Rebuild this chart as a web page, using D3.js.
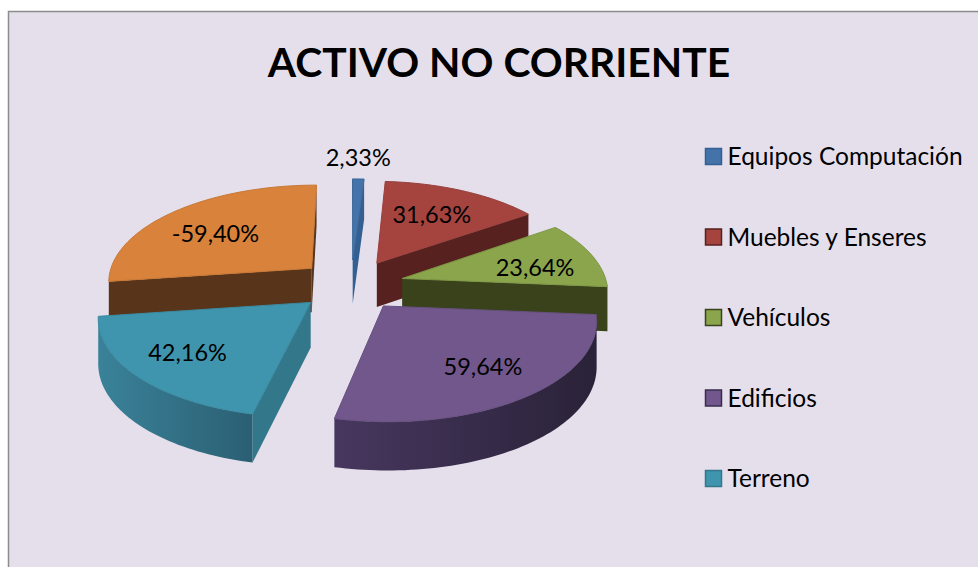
<!DOCTYPE html>
<html><head><meta charset="utf-8">
<script src="https://cdn.jsdelivr.net/npm/d3@7"></script>
<style>html,body{margin:0;padding:0;background:#fff}svg{display:block}</style>
</head><body><svg id="c" width="978" height="567"></svg>
<script>
const titleText = "ACTIVO NO CORRIENTE";
const categories = ["Equipos Computación","Muebles y Enseres","Vehículos","Edificios","Terreno","Activo"];
const legendCategories = ["Equipos Computación","Muebles y Enseres","Vehículos","Edificios","Terreno"];
const magnitudes = [2.33,31.63,23.64,59.64,42.16,59.40];
const labels = ["2,33%","31,63%","23,64%","59,64%","42,16%","-59,40%"];
const topColors = ["#4473a9","#a5443f","#8aa54c","#71578c","#3f95ae","#d9823b"];
const cutColors = ["#335f92","#57211f","#3a421c","#3a2d4c","#33788a","#57341a"];
const rimLeft   = ["#335f92","#5e2422","#3a421c","#47375f","#3a8299","#5a361b"];
const rimRight  = ["#2c5078","#4a1c1a","#333a18","#2a2238","#2b5f73","#57341a"];
const strokeColors = ["#3c689b","#98403c","#7e9746","#67507f","#3a8aa2","#c77835"];
const labelNudge = [[3,-51],[2,-3],[19,4],[19,8],[-22,7],[-11,1]];
const paintOrder = [0,5,1,2,4,3];

const W=978,H=567,cx=351,cy=285,explode=0.26,labelR=0.6;
const svg=d3.select("#c");
const defs=svg.append("defs");
svg.append("rect").attr("width",W).attr("height",H).attr("fill","#fff");
svg.append("rect").attr("x",8.5).attr("y",11.5).attr("width",W+10).attr("height",H+10)
  .attr("fill","#e5dfec").attr("stroke","#8c8c8c").attr("stroke-width",1.5);

svg.append("text").attr("x",499).attr("y",77).attr("text-anchor","middle")
  .attr("font-family","Lato, 'Open Sans', sans-serif").attr("font-weight",700).attr("font-size",40.8)
  .attr("fill","#000").text(titleText);

// Perspective model of the tilted disc
const scaleAt=d3.scaleLinear().domain([-1,0,1]).range([180,205,233]);   // px per unit at depth Z
const thickAt=d3.scaleLinear().domain([-1,1]).range([41,48]);           // extrusion height at depth Z
const depthY=d3.scaleLinear().domain([-1,0,1]).range([-99.5,0,97]);     // vertical foreshortening
function project(X,Z){
  const s=scaleAt(Z);
  return {x:cx+X*s,y:cy+depthY(Z)*s/205,t:thickAt(Z)};
}
const pie=d3.pie().sort(null).value(d=>d);
const arcs=pie(magnitudes);
const line=d3.line().x(d=>d.x).y(d=>d.y);

function slicePoints(a){
  const mid=(a.startAngle+a.endAngle)/2;
  const ox=explode*Math.sin(mid),oz=-explode*Math.cos(mid);
  const n=Math.max(4,Math.round((a.endAngle-a.startAngle)*40));
  const rim=d3.range(n+1).map(i=>{
    const th=a.startAngle+(a.endAngle-a.startAngle)*i/n;
    return project(ox+Math.sin(th),oz-Math.cos(th));
  });
  return {apex:project(ox,oz),rim};
}
function band(pts){
  const lower=pts.map(p=>({x:p.x,y:p.y+p.t})).reverse();
  return line(pts.concat(lower))+"Z";
}

const gSl=svg.append("g");
paintOrder.forEach(i=>{
  const {apex,rim}=slicePoints(arcs[i]);
  const g=gSl.append("g");
  const first=rim[0],last=rim[rim.length-1];
  // cut faces: clockwise outline edge is visible when moving left on screen
  if(first.x<apex.x) g.append("path").attr("d",band([apex,first])).attr("fill",cutColors[i]);
  if(apex.x<last.x) g.append("path").attr("d",band([last,apex])).attr("fill",cutColors[i]);
  // rim: keep the part that faces the viewer
  const vis=rim.filter((p,k)=>{
    const a=rim[Math.max(0,k-1)],b=rim[Math.min(rim.length-1,k+1)];
    return b.x<a.x;
  });
  if(vis.length>1){
    const id="rim"+i;
    const xs=d3.extent(vis,p=>p.x);
    const gr=defs.append("linearGradient").attr("id",id).attr("gradientUnits","userSpaceOnUse")
      .attr("x1",xs[0]).attr("x2",xs[1]).attr("y1",0).attr("y2",0);
    gr.append("stop").attr("offset",0).attr("stop-color",rimLeft[i]);
    gr.append("stop").attr("offset",1).attr("stop-color",rimRight[i]);
    g.append("path").attr("d",band(vis)).attr("fill",`url(#${id})`);
  }
  g.append("path").attr("d",line([apex,...rim])+"Z").attr("fill",topColors[i])
    .attr("stroke",strokeColors[i]).attr("stroke-width",1).attr("stroke-linejoin","round");
});

// data labels
arcs.forEach((a,i)=>{
  const mid=(a.startAngle+a.endAngle)/2, r=explode+labelR;
  const p=project(r*Math.sin(mid),-r*Math.cos(mid));
  svg.append("text").attr("x",p.x-1+labelNudge[i][0]).attr("y",p.y+labelNudge[i][1])
    .attr("dy","0.35em").attr("text-anchor","middle")
    .attr("font-family","Lato, 'Open Sans', sans-serif").attr("font-size",23.5).attr("fill","#000").text(labels[i]);
});

// legend
const legendY=d3.scalePoint().domain(legendCategories).range([156.5,478.5]);
const lg=svg.append("g").selectAll("g").data(legendCategories).join("g")
  .attr("transform",d=>`translate(705,${legendY(d)})`);
lg.append("rect").attr("x",0.5).attr("y",-8).attr("width",16).attr("height",16)
  .attr("fill",(d,i)=>topColors[i]).attr("stroke",(d,i)=>cutColors[i]).attr("stroke-width",1.5);
lg.append("text").attr("x",22.5).attr("dy","0.35em")
  .attr("font-family","Lato, 'Open Sans', sans-serif").attr("font-size",24.5).attr("fill","#000").text(d=>d);
</script></body></html>
